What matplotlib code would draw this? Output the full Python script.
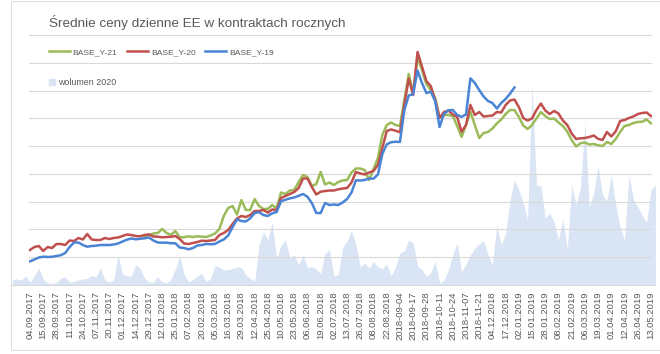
import numpy as np
import matplotlib
matplotlib.use("Agg")
import matplotlib.pyplot as plt
from matplotlib.lines import Line2D
from matplotlib.patches import Patch, Rectangle

# ---------------- data ----------------
title = "Średnie ceny dzienne EE w kontraktach rocznych"

tick_labels = [
    "04.09.2017", "15.09.2017", "28.09.2017", "11.10.2017", "24.10.2017",
    "07.11.2017", "20.11.2017", "01.12.2017", "14.12.2017", "29.12.2017",
    "12.01.2018", "25.01.2018", "07.02.2018", "20.02.2018", "05.03.2018",
    "16.03.2018", "29.03.2018", "12.04.2018", "25.04.2018", "10.05.2018",
    "23.05.2018", "06.06.2018", "19.06.2018", "02.07.2018", "13.07.2018",
    "26.07.2018", "08.08.2018", "22.08.2018", "2018-09-04", "2018-09-17",
    "2018-09-28", "2018-10-11", "2018-10-24", "2018-11-07", "2018-11-21",
    "04.12.2018", "17.12.2018", "02.01.2019", "15.01.2019", "28.01.2019",
    "08.02.2019", "21.02.2019", "06.03.2019", "19.03.2019", "01.04.2019",
    "12.04.2019", "26.04.2019", "13.05.2019",
]
TICK_STEP = 9      # trading days between labels
SAMPLE_STEP = 3    # trading days between stored samples

base_y20 = [
    135, 138, 139, 134, 138, 137, 141, 141, 140, 144.5,
    144, 147, 145.5, 151, 145.5, 145, 145, 147, 146, 147,
    147.5, 149, 150.5, 150, 149, 148.7, 150, 150.5, 148.5, 148.3,
    147.7, 148, 148.2, 149, 146, 141.5, 141, 142, 143, 144.3,
    144, 144.5, 145, 150, 152, 155, 161, 166.5, 169, 168,
    170, 174, 174, 175, 172.5, 175.5, 175, 187, 189, 191,
    193, 197, 206.5, 206.5, 198, 190.5, 193.3, 194, 194.5, 194.5,
    195.7, 196.5, 197, 202.5, 213, 211.5, 210.5, 212.5, 214, 220,
    237, 254, 255.5, 254.3, 252.7, 280, 306.5, 290, 333, 318.5,
    304, 299, 285, 267, 273, 274.5, 270.5, 268, 253.3, 260,
    280, 270, 273, 268.5, 269, 269.5, 273, 272.5, 280, 284.5,
    285.5, 278, 267, 264.5, 266.7, 275, 281.5, 274.5, 271, 274,
    271.5, 264.5, 260, 251.5, 246, 246.7, 247, 248, 249.5, 246.2,
    245, 253, 248.5, 253.7, 264, 265, 267, 268.5, 271, 272,
    272.5, 269,
]
base_y20_start = 0

base_y21 = [
    149, 150, 151.5, 152, 156, 152, 150.2, 154, 147.7, 147.8,
    148.7, 148, 148.7, 148.3, 148, 149.5, 151.5, 156, 169, 177,
    179, 170.5, 185, 175, 175, 186, 179, 176, 176, 180,
    176.7, 192.5, 191, 194.5, 195, 203, 210, 208, 199, 201,
    213, 200.5, 202.5, 200, 203, 204.5, 205, 212.5, 216.5, 216.5,
    215, 205, 216, 227, 250, 260, 262.5, 260, 259, 285,
    311, 292, 328, 315, 301, 295, 287, 267.5, 270, 270,
    269, 259, 248, 260, 273.3, 260, 247, 252, 253, 256.5,
    261.5, 265.5, 271, 275, 275, 268, 259.5, 256, 260, 266.5,
    273, 269, 266, 266.5, 262.5, 259, 253.3, 245, 238.5, 241.7,
    242.5, 240.5, 241, 239.7, 239, 243, 241, 246, 253, 259,
    260, 262, 263, 263.3, 265.5, 261.7,
]
base_y21_start = 78

base_y19 = [
    123.7, 125.5, 127.5, 128.3, 128, 128.2, 129, 129.8, 132, 138,
    142.5, 142.5, 140, 138.3, 139, 139.3, 140, 140, 140, 140.5,
    141.5, 143.5, 145.3, 146.5, 145.7, 146.2, 146.7, 147.5, 144.5, 142.5,
    142.3, 142.3, 141.8, 141.7, 137.5, 137, 135.7, 137, 139.5, 140,
    141, 140.8, 141, 143.5, 145.5, 149.5, 158, 165.5, 164, 163.5,
    166.7, 172, 172.8, 170, 169, 171.7, 173, 183.7, 185.3, 186.6,
    187.5, 189.2, 191, 188.2, 182, 172, 172, 182, 180, 180.5,
    180, 182.5, 186, 192.5, 204.7, 204.5, 205, 206.5, 206.3, 210.5,
    231, 240.7, 242.8, 243.3, 243, 275, 289.5, 291, 314.5, 302,
    292, 293.3, 284, 258, 271, 274.7, 275, 270, 268.2, 270.5,
    306.7, 302, 295, 288.5, 284, 282, 276.5, 282, 286, 291.3, 297.5,
]
base_y19_start = 0

wolumen_2020 = [
    5, 6, 5, 9, 3, 9, 17, 6, 2, 1.5,
    2.5, 7, 8, 2.7, 3.5, 5, 6, 6.5, 9.3, 8,
    17, 4.5, 3, 5, 30, 11, 9, 9, 20.5, 16.7,
    7, 3, 2.5, 8.5, 3, 2, 5.5, 15.5, 29, 10.5,
    3.3, 5.5, 9, 11.5, 3.3, 6.5, 19.5, 18, 15, 15.3,
    16.5, 18, 17.5, 10, 6.7, 3.3, 40, 53, 45, 63,
    26, 40, 45, 27, 30, 20, 30, 17.5, 18.5, 16,
    11.5, 32, 35, 9, 10.5, 38, 44, 55, 40, 18,
    22, 17, 23.5, 18, 16, 21, 9, 18, 32, 34,
    45, 42, 19, 15, 9, 12, 24, 2, 4.5, 15,
    30, 42, 13, 21, 30, 37, 41, 44.5, 30, 20,
    60, 40, 52, 85, 105, 95, 82, 65, 200, 100,
    99, 67, 72, 63, 45, 66, 36, 100, 80, 98,
    162, 78, 92, 119, 90, 84, 110, 80, 58, 45,
    110, 86, 78, 70, 62, 95, 100,
]
wolumen_start = -12

# ---------------- style ----------------
GREEN, RED, BLUE = "#9BBB59", "#C0504D", "#4A84D4"
AREA = "#D9E4F4"
GRID = "#D9D9D9"
TXT = "#595959"
plt.rcParams["font.family"] = ["Liberation Sans", "DejaVu Sans"]

W, H = 660, 354
fig = plt.figure(figsize=(W / 100, H / 100), dpi=100)


def fx(px):
    return px / W


def fy(py):
    return 1 - py / H


PX_PER_DAY = 1.468
X0_PX = 30          # pixel of first trading day
TOP, BOT = 35, 285


def xl(px_left, px_right):
    return ((px_left - X0_PX) / PX_PER_DAY, (px_right - X0_PX) / PX_PER_DAY)


ax_vol = fig.add_axes([fx(12), fy(BOT), fx(655) - fx(12), fy(TOP) - fy(BOT)])
ax = fig.add_axes([fx(29), fy(BOT), fx(652) - fx(29), fy(TOP) - fy(BOT)])
ax.set_zorder(ax_vol.get_zorder() + 1)
ax.patch.set_alpha(0)

# volume area
vx = wolumen_start + SAMPLE_STEP * np.arange(len(wolumen_2020))
ax_vol.fill_between(vx, wolumen_2020, 0, color=AREA, lw=0)
ax_vol.set_xlim(*xl(12, 655))
ax_vol.set_ylim(0, 250)
ax_vol.set_xticks([])
ax_vol.set_yticks([])
for s in ("top", "left", "right"):
    ax_vol.spines[s].set_visible(False)
ax_vol.spines["bottom"].set_color(GRID)
ax_vol.spines["bottom"].set_linewidth(0.8)

# price lines
for vals, start, col in [(base_y21, base_y21_start, GREEN),
                         (base_y20, base_y20_start, RED),
                         (base_y19, base_y19_start, BLUE)]:
    xs = start + SAMPLE_STEP * np.arange(len(vals))
    ax.plot(xs, vals, color=col, lw=1.8, solid_joinstyle="round", zorder=3)

ax.set_xlim(*xl(29, 652))
ax.set_ylim(100, 350)
ax.set_yticks(np.linspace(100, 350, 10))
ax.set_yticklabels([])
ax.grid(axis="y", color=GRID, lw=0.8)
ax.set_axisbelow(True)
ax.set_xticks(TICK_STEP * np.arange(len(tick_labels)))
ax.set_xticklabels(tick_labels, rotation=90, fontsize=6.8, color=TXT)
ax.tick_params(axis="x", length=0, pad=4.5)
ax.tick_params(axis="y", length=0)
for s in ax.spines.values():
    s.set_visible(False)

# title
fig.text(fx(49), fy(22), title, fontsize=9.7, color=TXT, va="center", ha="left")

# legends
h1 = [Line2D([], [], color=c, lw=1.8) for c in (GREEN, RED, BLUE)]
fig.legend(h1, ["BASE_Y-21", "BASE_Y-20", "BASE_Y-19"], loc="center left",
           bbox_to_anchor=(fx(49), fy(52)), ncol=3, frameon=False,
           fontsize=6.1, labelcolor=TXT, handlelength=2.45, handletextpad=0.35,
           columnspacing=1.15, borderpad=0, borderaxespad=0)
fig.legend([Patch(color=AREA)], ["wolumen 2020"], loc="center left",
           bbox_to_anchor=(fx(49), fy(82.5)), frameon=False, fontsize=6.4,
           labelcolor=TXT, handlelength=0.7, handleheight=0.8,
           handletextpad=0.3, borderpad=0, borderaxespad=0)

# chart border
fig.add_artist(Rectangle((fx(11), fy(350)), fx(660) - fx(11) + 0.01, fy(1) - fy(350),
                         transform=fig.transFigure, fill=False, ec="#DCE1E8", lw=0.8))

fig.savefig("out.png", dpi=100)
